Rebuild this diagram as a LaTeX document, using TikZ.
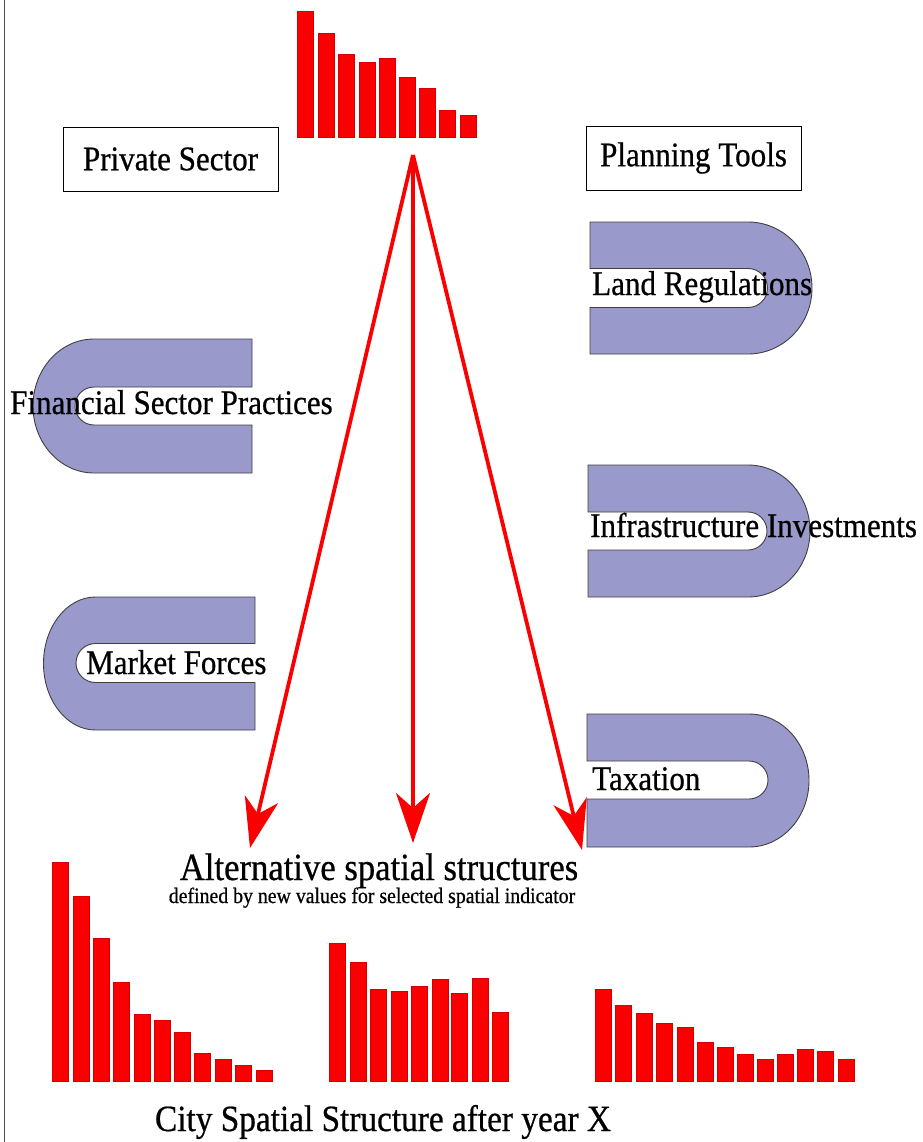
\documentclass[tikz,border=0pt]{standalone}
\usepackage{fontspec}
\setmainfont[FakeStretch=0.9,FakeBold=0.6]{Liberation Serif}
\usetikzlibrary{arrows.meta}
\definecolor{barred}{RGB}{250,0,0}
\definecolor{ufill}{RGB}{153,153,204}
\begin{document}
\begin{tikzpicture}[x=1pt,y=-1pt,
  bar/.style={fill=barred, draw=barred!85!black, line width=0.3pt},
  ushape/.style={fill=ufill, draw=black!75, line width=0.9pt},
  lbl/.style={font=\fontsize{34.5}{40}\selectfont, inner sep=0pt, anchor=base west},
  titlebox/.style={draw=black, line width=0.9pt, fill=white, minimum width=215pt, minimum height=64pt, inner sep=0pt, font=\fontsize{34.5}{40}\selectfont},
  flow/.style={draw=barred, line width=3.8pt, -{Stealth[length=50pt,width=34pt,inset=15pt]}}
]
\useasboundingbox (0,0) rectangle (922,1142);
\fill[white] (0,0) rectangle (922,1142);
% left frame line
\draw[line width=1.2pt, black!70] (4.5,0) -- (4.5,1142);

% top histogram
\foreach \x/\t in {297.3/11, 317.7/33.3, 338.3/54.3, 359/62, 379/58.3, 399.3/76.7, 419.3/88.3, 439.3/110.3, 460/115.3}
  \draw[bar] (\x,\t) rectangle ++(16,137-\t);

% boxes
\node[titlebox] (priv) at (170.5,159) {Private Sector};
\node[titlebox] (plan) at (693.5,158) {Planning Tools};

% left C shapes
\draw[ushape] (252,339) -- (94,339) arc[start angle=90, end angle=270, x radius=61pt, y radius=67pt]
  -- (252,473) -- (252,425) -- (94,425) arc[start angle=270, end angle=90, radius=19pt]
  -- (252,387) -- cycle;
\draw[ushape] (255,597) -- (95.5,597) arc[start angle=90, end angle=270, x radius=52pt, y radius=66.5pt]
  -- (255,730) -- (255,682.5) -- (95.5,682.5) arc[start angle=270, end angle=90, radius=19.5pt]
  -- (255,643.5) -- cycle;

% right D shapes
\draw[ushape] (590,222) -- (748,222) arc[start angle=90, end angle=-90, x radius=64pt, y radius=66pt]
  -- (590,354) -- (590,307.5) -- (748,307.5) arc[start angle=-90, end angle=90, radius=19.5pt]
  -- (590,268.5) -- cycle;
\draw[ushape] (588,465) -- (748,465) arc[start angle=90, end angle=-90, x radius=62pt, y radius=66pt]
  -- (588,597) -- (588,550) -- (748,550) arc[start angle=-90, end angle=90, radius=19pt]
  -- (588,512) -- cycle;
\draw[ushape] (587,714) -- (749,714) arc[start angle=90, end angle=-90, x radius=60pt, y radius=66.5pt]
  -- (587,847) -- (587,799) -- (749,799) arc[start angle=-90, end angle=90, radius=19pt]
  -- (587,761) -- cycle;

% labels
\node[lbl] (fin) at (10,414) {Financial Sector Practices};
\node[lbl] (mkt) at (86,674) {Market Forces};
\node[lbl] (land) at (592,295) {Land Regulations};
\node[lbl] (infra) at (590,537) {Infrastructure Investments};
\node[lbl] (tax) at (592,790) {Taxation};

% arrows
\coordinate (src) at (413,155);
\coordinate (tL) at (250,848);
\coordinate (tM) at (413,843);
\coordinate (tR) at (582,850);
\draw[flow] (src) -- (tL);
\draw[flow] (src) -- (tM);
\draw[flow] (src) -- (tR);

% captions
\node[font=\fontsize{38.5}{44}\selectfont, inner sep=0pt, anchor=base] (alt) at (379,880) {Alternative spatial structures};
\node[font=\fontsize{22}{26}\selectfont, inner sep=0pt, anchor=base] (def) at (372,903) {defined by new values for selected spatial indicator};

% bottom histograms
\foreach \x/\t in {51.7/861.7, 72.7/896, 93.3/938.3, 113.3/981.7, 134/1014, 154.3/1020, 174/1031.7, 194.3/1053.3, 215/1059, 235/1065, 255.7/1070}
  \draw[bar] (\x,\t) rectangle ++(16,1080.7-\t);
\foreach \x/\t in {329.3/943.3, 350/961.7, 370/989.3, 390.7/990.7, 411/985.7, 431.7/979.3, 451/992.7, 471.7/978.3, 491.7/1011.7}
  \draw[bar] (\x,\t) rectangle ++(16,1080.7-\t);
\foreach \x/\t in {595/989.3, 615.3/1005.3, 636/1012.7, 656.3/1022.7, 676.7/1026.7, 697/1041.7, 717/1046.7, 737/1054, 757.3/1059, 777.3/1054, 797.3/1049, 817.3/1051.3, 837.7/1059}
  \draw[bar] (\x,\t) rectangle ++(16,1081-\t);

\node[font=\fontsize{37}{42}\selectfont, inner sep=0pt, anchor=base] (city) at (383,1131) {City Spatial Structure after year X};
\end{tikzpicture}
\end{document}
